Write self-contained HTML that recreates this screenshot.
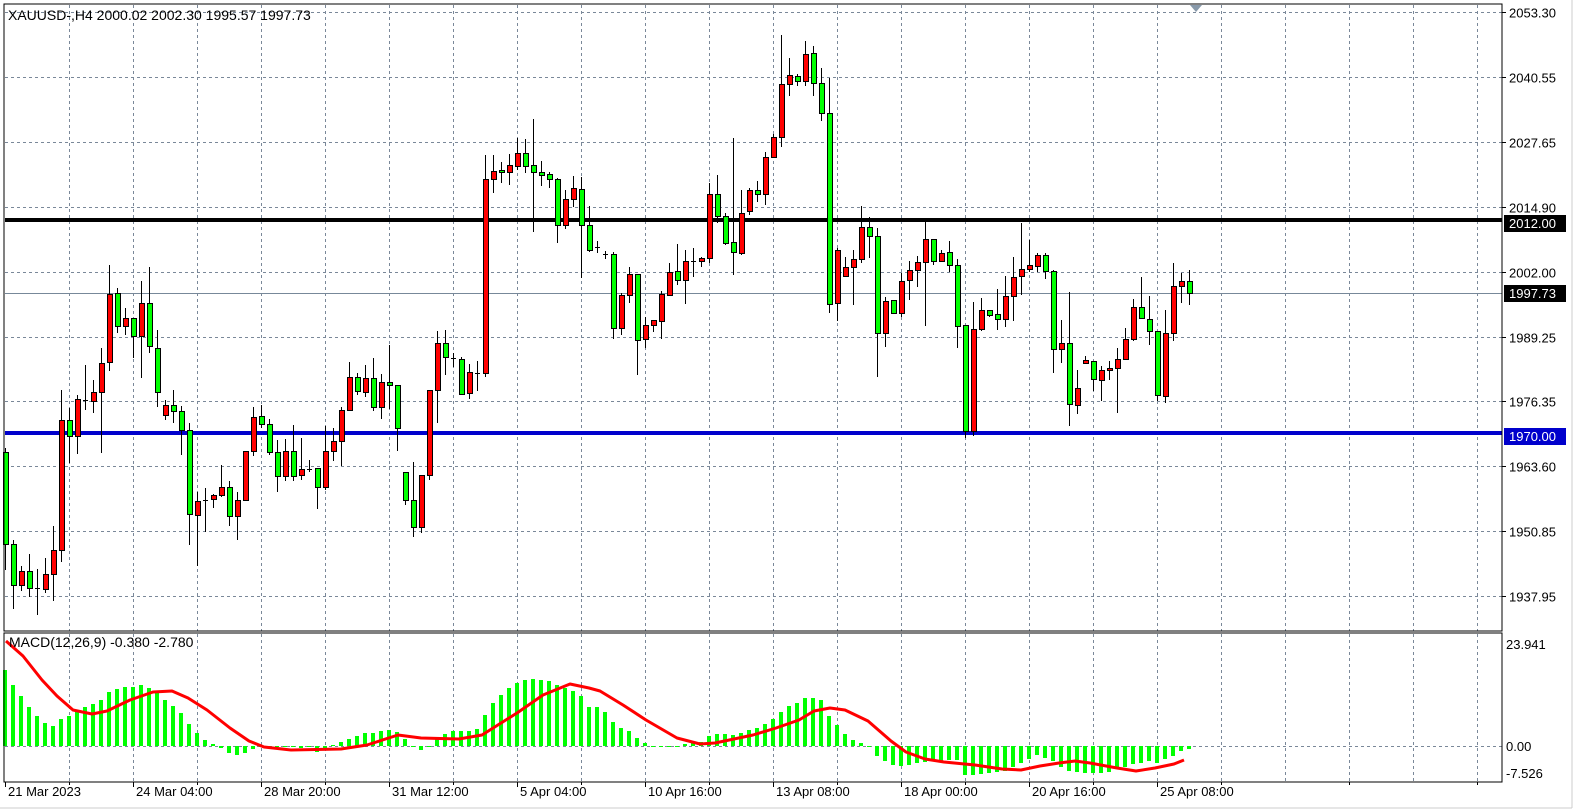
<!DOCTYPE html>
<html><head><meta charset="utf-8">
<style>
html,body{margin:0;padding:0;background:#fff;}
svg{display:block;font-family:"Liberation Sans",sans-serif;font-size:13px;}
</style></head>
<body>
<svg id="s" width="1576" height="811" xmlns="http://www.w3.org/2000/svg">
<rect width="1576" height="811" fill="#fff"/>
<g id="grid"></g>
<g id="lines"></g>
<g id="candles"></g>
<g id="macd"></g>
<polyline id="sig" fill="none" stroke="#ff0000" stroke-width="3" stroke-linejoin="round" points=""/>
<rect x="4" y="4" width="1498" height="627" fill="none" stroke="#000" stroke-width="1"/>
<rect x="4" y="633" width="1498" height="149" fill="none" stroke="#000" stroke-width="1"/>
<line x1="1572" y1="0" x2="1572" y2="808" stroke="#ccc"/>
<line x1="0" y1="808" x2="1572" y2="808" stroke="#ccc"/>
<polygon points="1190,5 1202,5 1196,12" fill="#8899aa"/>
<text x="8" y="20" fill="#000" style="font-size:14px">XAUUSD-,H4  2000.02 2002.30 1995.57 1997.73</text>
<text x="9" y="647" fill="#000" style="font-size:14px">MACD(12,26,9) -0.380 -2.780</text>
<g id="axis"></g>
</svg>
<script>
var NS="http://www.w3.org/2000/svg";
function el(p,t,a,txt){var e=document.createElementNS(NS,t);for(var k in a)e.setAttribute(k,a[k]);if(txt!==undefined)e.textContent=txt;document.getElementById(p).appendChild(e);return e;}
var gc="#7a8899";
for(var x=69;x<1500;x+=64){
  el("grid","line",{x1:x+.5,y1:5,x2:x+.5,y2:631,stroke:gc,"stroke-dasharray":"3,3"});
  el("grid","line",{x1:x+.5,y1:634,x2:x+.5,y2:782,stroke:gc,"stroke-dasharray":"3,3"});
}
var pl=["2053.30","2040.55","2027.65","2014.90","2002.00","1989.25","1976.35","1963.60","1950.85","1937.95"];
for(var i=0;i<10;i++){var y=Math.round(12+64.9*i)+.5;
  el("grid","line",{x1:5,y1:y,x2:1502,y2:y,stroke:gc,"stroke-dasharray":"3,3"});
  el("axis","line",{x1:1502,y1:y,x2:1506,y2:y,stroke:"#000"});
  el("axis","text",{x:1509,y:y+5,fill:"#000"},pl[i]);
}
el("grid","line",{x1:5,y1:746.5,x2:1502,y2:746.5,stroke:gc,"stroke-dasharray":"3,3"});
el("axis","text",{x:1506,y:649,fill:"#000"},"23.941");
el("axis","text",{x:1506,y:751,fill:"#000"},"0.00");
el("axis","text",{x:1506,y:778,fill:"#000"},"-7.526");
el("lines","line",{x1:5,y1:293.5,x2:1502,y2:293.5,stroke:"#778899"});
el("lines","rect",{x:5,y:218,width:1497,height:4,fill:"#000"});
el("lines","rect",{x:5,y:431,width:1497,height:4,fill:"#0000cc"});
el("axis","rect",{x:1504,y:215,width:62,height:17,fill:"#000"});
el("axis","text",{x:1509,y:228,fill:"#fff"},"2012.00");
el("axis","rect",{x:1504,y:285,width:62,height:17,fill:"#000"});
el("axis","text",{x:1509,y:298,fill:"#fff"},"1997.73");
el("axis","rect",{x:1504,y:428,width:62,height:17,fill:"#0000cc"});
el("axis","text",{x:1509,y:441,fill:"#fff"},"1970.00");
var tl=["21 Mar 2023","24 Mar 04:00","28 Mar 20:00","31 Mar 12:00","5 Apr 04:00","10 Apr 16:00","13 Apr 08:00","18 Apr 00:00","20 Apr 16:00","25 Apr 08:00"];
for(var i=0;i<10;i++){var x=5+128*i;
  el("axis","line",{x1:x+.5,y1:782,x2:x+.5,y2:787,stroke:"#000"});
  el("axis","text",{x:x+3,y:796,fill:"#000"},tl[i]);
}
for(var x=69;x<1500;x+=128){el("axis","line",{x1:x+.5,y1:782,x2:x+.5,y2:785,stroke:"#000"});}
var C=[[448,570,452,544,"g"],[540,609,544,585,"g"],[566,591,571,585,"r"],[554,597,571,588,"g"],[569,615,588,588,"d"],[558,593,574,589,"r"],[526,601,550,574,"r"],[390,562,420,550,"r"],[408,463,420,436,"g"],[395,454,399,436,"r"],
[365,410,400,400,"d"],[380,413,392,401,"r"],[348,453,363,392,"r"],[265,371,294,362,"r"],[288,333,293,326,"g"],[308,335,318,326,"r"],[318,358,318,336,"g"],[281,378,303,336,"r"],[267,353,303,346,"g"],[330,407,348,392,"g"],
[400,420,405,415,"r"],[390,423,405,411,"g"],[406,455,411,430,"g"],[423,545,430,514,"g"],[492,566,501,515,"r"],[488,532,500,500,"d"],[494,508,495,499,"r"],[465,497,487,495,"r"],[481,526,487,516,"g"],[492,540,500,516,"r"],
[451,500,451,500,"r"],[407,456,417,451,"r"],[405,428,416,424,"g"],[419,455,424,452,"g"],[440,492,452,476,"g"],[439,481,451,476,"r"],[425,481,451,476,"g"],[438,480,469,475,"r"],[460,472,469,469,"d"],[468,509,468,487,"g"],
[426,490,451,487,"r"],[428,461,441,451,"r"],[407,466,410,441,"r"],[362,410,377,410,"r"],[373,395,377,391,"g"],[365,397,378,392,"r"],[358,411,378,407,"g"],[374,419,382,407,"r"],[345,409,382,385,"g"],[385,451,385,428,"g"],
[472,505,472,500,"g"],[462,537,500,527,"g"],[475,533,475,527,"r"],[390,480,390,475,"r"],[331,423,343,390,"r"],[330,375,343,357,"g"],[353,367,358,358,"d"],[357,395,359,394,"g"],[364,399,372,393,"r"],[361,391,373,373,"d"],
[155,377,179,373,"r"],[155,193,171,179,"r"],[162,183,170,172,"g"],[154,185,165,172,"r"],[138,170,153,166,"r"],[139,173,153,166,"g"],[119,232,165,172,"g"],[161,186,172,175,"g"],[172,188,174,179,"g"],[178,243,179,225,"g"],
[190,229,199,225,"r"],[176,207,188,199,"r"],[177,278,189,225,"g"],[206,252,225,250,"g"],[241,253,247,247,"d"],[251,259,254,254,"d"],[252,339,254,328,"g"],[293,335,295,328,"r"],[267,303,274,295,"r"],[274,375,274,340,"g"],
[317,348,325,339,"r"],[320,332,320,325,"r"],[291,339,294,321,"r"],[263,295,272,295,"r"],[244,285,271,280,"g"],[250,304,261,280,"r"],[248,277,261,261,"d"],[257,267,258,261,"r"],[183,263,194,258,"r"],[175,223,194,216,"g"],
[213,245,216,243,"g"],[138,275,242,252,"g"],[190,255,213,253,"r"],[188,215,190,211,"r"],[181,202,190,194,"g"],[152,205,157,194,"r"],[134,158,137,157,"r"],[35,147,84,137,"r"],[58,96,75,84,"r"],[74,86,76,81,"g"],
[41,86,54,81,"r"],[46,96,53,83,"g"],[68,121,83,113,"g"],[78,313,113,304,"g"],[248,321,250,303,"r"],[257,276,267,276,"r"],[250,305,259,267,"r"],[206,263,227,259,"r"],[217,258,227,236,"g"],[228,377,236,333,"g"],
[297,347,301,333,"r"],[300,313,300,313,"g"],[273,317,281,313,"r"],[261,300,270,280,"r"],[256,287,262,270,"r"],[222,326,239,262,"r"],[239,265,239,261,"g"],[250,261,253,261,"r"],[241,272,252,265,"g"],[259,348,265,326,"g"],
[325,438,325,431,"g"],[302,436,329,431,"r"],[298,331,310,329,"r"],[310,317,310,315,"g"],[289,330,314,319,"g"],[276,327,296,319,"r"],[257,321,277,296,"r"],[223,295,269,276,"r"],[240,272,265,269,"r"],[253,272,255,266,"r"],
[253,279,255,271,"g"],[270,373,271,349,"g"],[320,363,343,349,"r"],[292,426,343,404,"g"],[370,414,388,405,"r"],[356,363,360,363,"r"],[361,391,361,379,"g"],[366,401,370,380,"r"],[361,380,368,370,"r"],[348,413,359,368,"r"],
[328,360,339,359,"r"],[299,341,307,339,"r"],[277,318,307,318,"g"],[296,345,319,331,"g"],[331,401,331,395,"g"],[310,403,333,396,"r"],[263,341,286,333,"r"],[273,303,281,286,"r"],[270,305,281,293,"g"]];
for(var i=0;i<C.length;i++){var c=C[i],x=5+8*i;
  el("candles","line",{x1:x+.5,y1:c[0],x2:x+.5,y2:c[1],stroke:"#000"});
  if(c[4]=="d"){el("candles","line",{x1:x-2,y1:c[2]+.5,x2:x+3,y2:c[2]+.5,stroke:"#000"});}
  else{var h=Math.max(c[3]-c[2],2);el("candles","rect",{x:x-2+.5,y:c[2]+.5,width:5,height:h,fill:c[4]=="r"?"#ff0000":"#00ff00",stroke:"#000"});}
}
var H=[670,685,696,707,716,723,726,719,716,711,707,704,700,692,689,687,687,685,688,692,700,706,713,724,733,740,744,748,753,755,753,749,747,747,747,747,746,748,747,752,748,745,742,739,736,733,733,731,730,732,739,746,750,746,739,734,731,731,731,729,715,703,695,688,683,680,679,680,681,685,688,691,696,707,707,712,722,728,731,738,743,746,747,746,746,744,742,742,736,734,734,735,733,730,728,724,719,712,706,703,698,698,700,716,725,734,740,743,746,756,761,765,766,765,763,762,761,761,760,760,775,775,774,773,772,771,767,763,759,755,758,761,767,771,772,773,773,773,772,768,767,764,763,761,763,759,756,751,749];
for(var i=0;i<H.length;i++){var x=5+8*i,v=H[i],z=746;
  var y=Math.min(v,z),h=Math.abs(v-z);if(h<1)h=1;
  el("macd","rect",{x:x-2,y:y,width:4,height:h,fill:"#00ff00"});
}
document.getElementById("sig").setAttribute("points","6,641 23,656 42,680 57,696 73,710 92,714 107,711 130,700 153,692 172,691 188,698 207,710 230,728 249,741 264,747 291,750 341,749 367,745 398,735 421,738 459,739 482,735 517,713 543,695 570,684 589,688 600,691 623,705 646,720 677,738 700,744 715,743 753,735 776,728 799,720 814,711 830,708 845,710 868,721 891,741 906,752 925,759 944,762 975,765 1002,769 1021,770 1040,766 1059,763 1075,761 1090,763 1117,768 1136,771 1155,768 1174,764 1184,760");
</script>
</body></html>
